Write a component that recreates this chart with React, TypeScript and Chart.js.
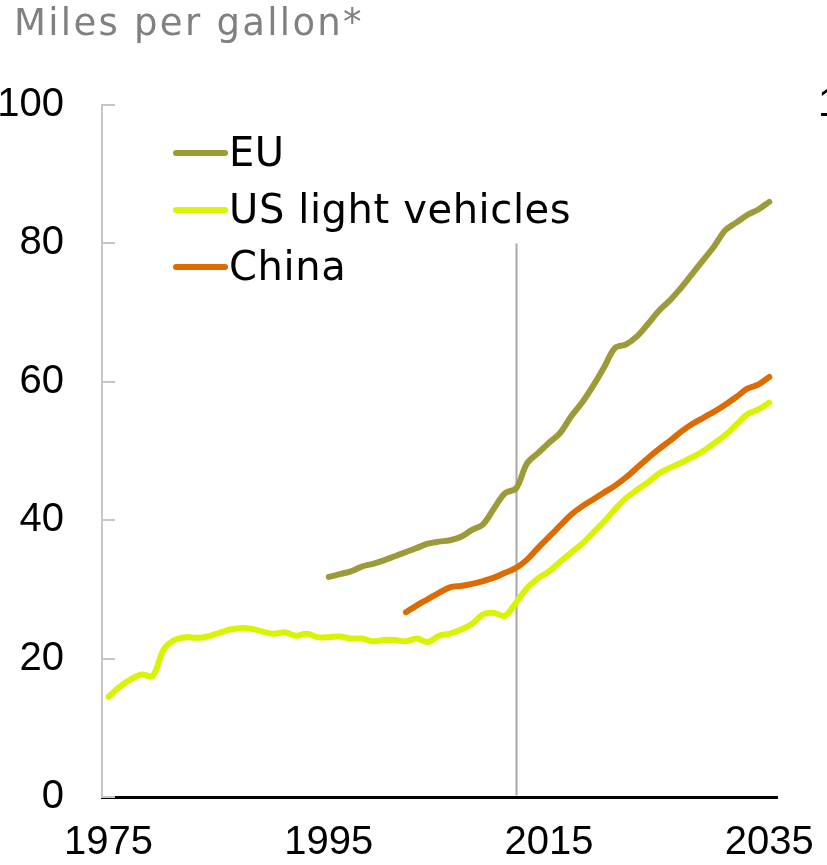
import React, { useEffect, useRef } from "react";
import { Chart, registerables } from "chart.js";

Chart.register(...registerables);

const years = [
  1975, 1976, 1977, 1978, 1979, 1980, 1981, 1982, 1983, 1984,
  1985, 1986, 1987, 1988, 1989, 1990, 1991, 1992, 1993, 1994,
  1995, 1996, 1997, 1998, 1999, 2000, 2001, 2002, 2003, 2004,
  2005, 2006, 2007, 2008, 2009, 2010, 2011, 2012, 2013, 2014,
  2015, 2016, 2017, 2018, 2019, 2020, 2021, 2022, 2023, 2024,
  2025, 2026, 2027, 2028, 2029, 2030, 2031, 2032, 2033, 2034, 2035,
];

const euValues: (number | null)[] = [
  null, null, null, null, null, null, null, null, null, null,
  null, null, null, null, null, null, null, null, null, null,
  31.8, 32.2, 32.6, 33.3, 33.7, 34.2, 34.8, 35.4, 36.0, 36.6,
  36.9, 37.1, 37.6, 38.6, 39.4, 41.7, 43.9, 44.6, 48.2, 49.7,
  51.2, 52.6, 55.0, 57.0, 59.4, 62.1, 64.9, 65.4, 66.6, 68.4,
  70.3, 71.8, 73.6, 75.6, 77.6, 79.6, 81.9, 83.0, 84.1, 84.9, 86.0,
];

const usValues: (number | null)[] = [
  14.5, 15.9, 17.0, 17.7, 17.5, 21.3, 22.7, 23.1, 23.0, 23.2,
  23.7, 24.2, 24.4, 24.3, 23.9, 23.6, 23.8, 23.3, 23.6, 23.1,
  23.1, 23.2, 22.9, 22.9, 22.5, 22.7, 22.7, 22.5, 22.9, 22.4,
  23.3, 23.6, 24.2, 25.0, 26.4, 26.6, 26.2, 28.1, 30.2, 31.6,
  32.6, 34.0, 35.3, 36.6, 38.2, 39.8, 41.6, 43.2, 44.4, 45.5,
  46.8, 47.6, 48.3, 49.1, 50.0, 51.1, 52.3, 53.8, 55.3, 56.0, 57.0,
];

const chinaValues: (number | null)[] = [
  null, null, null, null, null, null, null, null, null, null,
  null, null, null, null, null, null, null, null, null, null,
  null, null, null, null, null, null, null, 26.7, 27.7, 28.6,
  29.5, 30.3, 30.5, 30.8, 31.2, 31.7, 32.4, 33.1, 34.3, 36.0,
  37.6, 39.2, 40.8, 42.0, 43.0, 44.0, 45.0, 46.2, 47.6, 49.0,
  50.3, 51.5, 52.8, 53.9, 54.8, 55.7, 56.7, 57.8, 59.0, 59.6, 60.7,
];

const seriesLabels = ["EU", "US light vehicles", "China"];
const seriesColors = ["#9c9b37", "#d8f400", "#dd6b00"];
const yTickValues = [0, 20, 40, 60, 80, 100];
const xTickValues = [1975, 1995, 2015, 2035];
const markerYear = 2012;
const markerTop = 80;
const titleText = "Miles per gallon*";
const edgeLabel = "100";

const FONT = "'Liberation Sans', Arial, Helvetica, sans-serif";
const TEXT_FONT = "'DejaVu Sans', 'Liberation Sans', Arial, sans-serif";

export default function App() {
  const ref = useRef<HTMLCanvasElement>(null);

  useEffect(() => {
    document.body.style.margin = "0";
    const canvas = ref.current;
    if (!canvas) return;

    const toPoints = (vals: (number | null)[]) =>
      years
        .map((x, i) => ({ x, y: vals[i] }))
        .filter((p) => p.y !== null) as { x: number; y: number }[];

    const seriesData = [euValues, usValues, chinaValues];

    const decor = {
      id: "decor",
      beforeDatasetsDraw(chart: any) {
        const { ctx, scales } = chart;
        const x = scales.x;
        const y = scales.y;
        ctx.save();
        ctx.strokeStyle = "#c6c6c6";
        ctx.lineWidth = 2;
        yTickValues.forEach((v) => {
          const py = Math.round(y.getPixelForValue(v));
          ctx.beginPath();
          ctx.moveTo(x.left, py);
          ctx.lineTo(x.left + 13, py);
          ctx.stroke();
        });
        const mx = Math.round(x.getPixelForValue(markerYear)) + 0.5;
        ctx.strokeStyle = "#a8a8a8";
        ctx.lineWidth = 2;
        ctx.beginPath();
        ctx.moveTo(mx, y.getPixelForValue(markerTop));
        ctx.lineTo(mx, y.getPixelForValue(0) - 1.5);
        ctx.stroke();
        ctx.restore();
      },
      afterDraw(chart: any) {
        const { ctx } = chart;
        ctx.save();
        // title
        ctx.fillStyle = "#808080";
        ctx.font = `37px ${TEXT_FONT}`;
        (ctx as any).letterSpacing = "2.3px";
        ctx.textAlign = "left";
        ctx.textBaseline = "alphabetic";
        ctx.fillText(titleText, 14, 35);
        // legend
        (ctx as any).letterSpacing = "0.6px";
        ctx.font = `40px ${TEXT_FONT}`;
        seriesLabels.forEach((lab, i) => {
          const ly = 153 + i * 57;
          ctx.strokeStyle = seriesColors[i];
          ctx.lineWidth = 6;
          ctx.lineCap = "round";
          ctx.beginPath();
          ctx.moveTo(176, ly);
          ctx.lineTo(225, ly);
          ctx.stroke();
          ctx.fillStyle = "#000";
          ctx.fillText(lab, 229, ly + 13);
        });
        // cut-off label at right edge
        (ctx as any).letterSpacing = "0px";
        ctx.font = `40px ${FONT}`;
        ctx.textBaseline = "middle";
        ctx.fillText(edgeLabel, 818, chart.scales.y.getPixelForValue(100));
        ctx.restore();
      },
    };

    const chart = new Chart(canvas, {
      type: "line",
      data: {
        datasets: seriesLabels.map((label, i) => ({
          label,
          data: toPoints(seriesData[i]),
          borderColor: seriesColors[i],
          backgroundColor: seriesColors[i],
          borderWidth: 6,
          borderCapStyle: "round" as const,
          borderJoinStyle: "round" as const,
          pointRadius: 0,
          tension: 0.35,
          fill: false,
        })),
      },
      options: {
        animation: false,
        responsive: false,
        devicePixelRatio: 1,
        layout: { padding: { top: 105, right: 50, left: 0, bottom: 0 } },
        plugins: {
          legend: { display: false },
          tooltip: { enabled: false },
          title: { display: false },
        },
        scales: {
          x: {
            type: "linear",
            min: 1974.4,
            max: 2035.7,
            grid: { display: false, drawTicks: false },
            border: { display: true, color: "#000", width: 3 },
            afterBuildTicks: (scale: any) => {
              scale.ticks = xTickValues.map((v) => ({ value: v }));
            },
            afterFit: (scale: any) => {
              scale.height = 68;
              scale.paddingLeft = 0;
              scale.paddingRight = 0;
            },
            ticks: {
              autoSkip: false,
              maxRotation: 0,
              padding: 22,
              color: "#000",
              font: { family: FONT, size: 40 },
              callback: (v: any) => String(v),
            },
          },
          y: {
            min: 0,
            max: 100,
            grid: { display: false, drawTicks: false },
            border: { display: true, color: "#c6c6c6", width: 2 },
            afterBuildTicks: (scale: any) => {
              scale.ticks = yTickValues.map((v) => ({ value: v }));
            },
            afterFit: (scale: any) => {
              scale.width = 102;
              scale.paddingTop = 0;
              scale.paddingBottom = 0;
            },
            ticks: {
              padding: 38,
              color: "#000",
              font: { family: FONT, size: 40 },
              callback: (v: any) => String(v),
            },
          },
        },
      },
      plugins: [decor],
    });

    return () => chart.destroy();
  }, []);

  return (
    <div style={{ width: 827, height: 865, position: "relative", overflow: "hidden" }}>
      <canvas ref={ref} width={827} height={865} style={{ width: 827, height: 865, display: "block" }} />
    </div>
  );
}
